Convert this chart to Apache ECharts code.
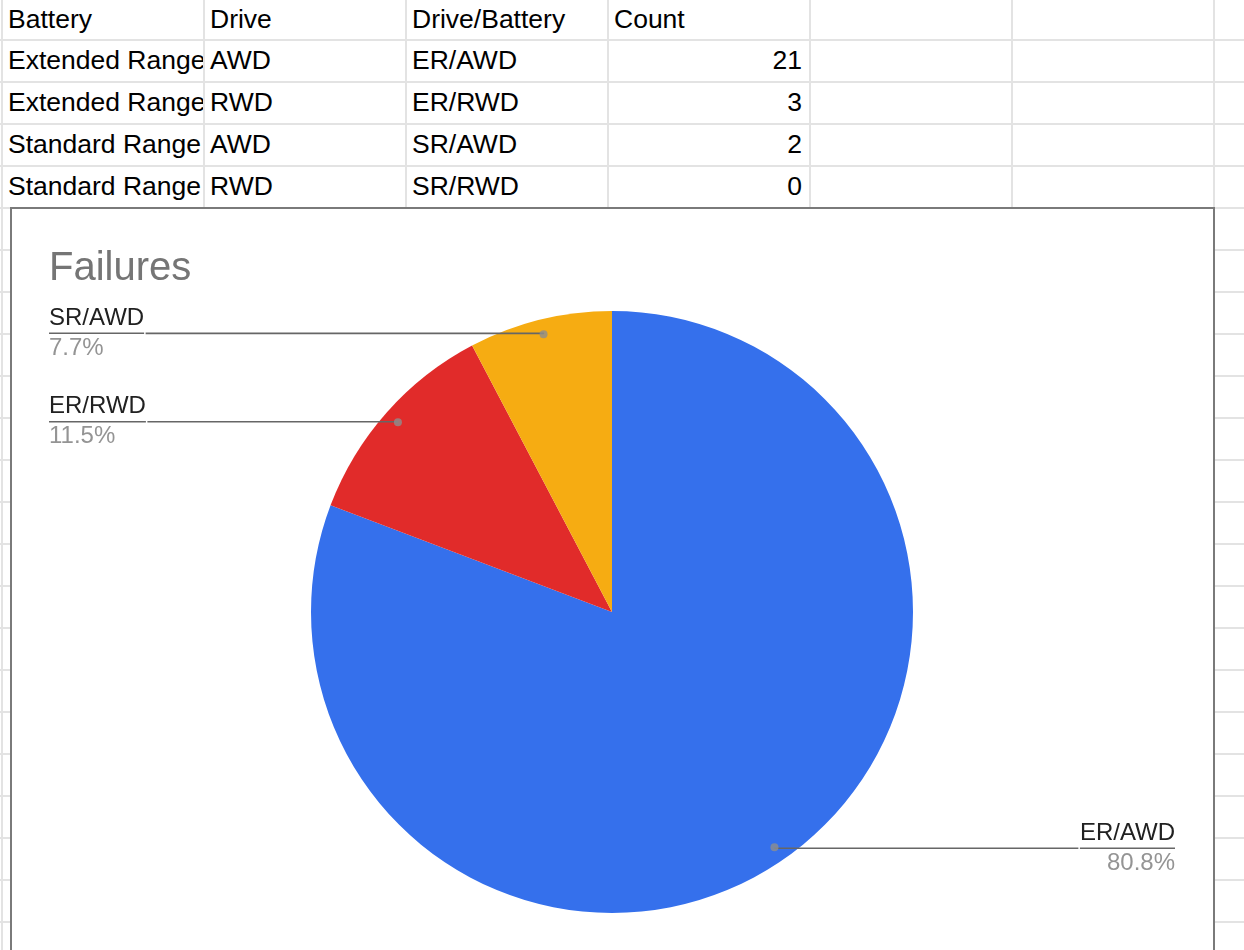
<!DOCTYPE html>
<html>
<head>
<meta charset="utf-8">
<script src="https://cdn.jsdelivr.net/npm/echarts@6/dist/echarts.min.js"></script>
<style>
  html, body { margin: 0; padding: 0; background: #fff; overflow: hidden; }
  body { width: 1244px; height: 950px; position: relative; font-family: "Liberation Sans", Arial, sans-serif; }
  .hl { position: absolute; left: 0; width: 1244px; height: 2px; background: #e3e3e3; }
  .vl { position: absolute; top: 0; width: 2px; height: 950px; background: #e3e3e3; }
  .cell { position: absolute; height: 42px; line-height: 40px; font-size: 26.5px; color: #000; white-space: nowrap; overflow: hidden; box-sizing: border-box; }
  #chart { position: absolute; left: 10px; top: 208px; width: 1204px; height: 742px; background: #fff; }
  #frame { position: absolute; left: 10px; top: 207px; width: 1205px; height: 800px; border: 2px solid #7a7a7a; box-sizing: border-box; pointer-events: none; }
</style>
</head>
<body>
<div id="sheet"></div>
<div id="chart"></div>
<div id="frame"></div>
<script>
// ---- data ----
const headers = ['Battery', 'Drive', 'Drive/Battery', 'Count'];
const battery = ['Extended Range', 'Extended Range', 'Standard Range', 'Standard Range'];
const drive = ['AWD', 'RWD', 'AWD', 'RWD'];
const driveBattery = ['ER/AWD', 'ER/RWD', 'SR/AWD', 'SR/RWD'];
const counts = [21, 3, 2, 0];
const chartTitle = 'Failures';

// ---- spreadsheet grid ----
const sheet = document.getElementById('sheet');
const colLines = [1, 203, 405, 607, 809, 1011, 1213];
const rowTop = 39, rowH = 42;
for (let y = rowTop; y < 950; y += rowH) {
  const d = document.createElement('div'); d.className = 'hl'; d.style.top = y + 'px'; sheet.appendChild(d);
}
colLines.forEach(x => {
  const d = document.createElement('div'); d.className = 'vl'; d.style.left = x + 'px'; sheet.appendChild(d);
});
function addCell(col, row, text, alignRight) {
  const d = document.createElement('div');
  d.className = 'cell';
  const x0 = colLines[col] + 2, x1 = colLines[col + 1];
  d.style.left = x0 + 'px';
  d.style.width = (x1 - x0) + 'px';
  d.style.top = (row === 0 ? 0 : rowTop + rowH * (row - 1) + 1) + 'px';
  if (row === 0) { d.style.height = '39px'; d.style.lineHeight = '39px'; }
  if (alignRight) { d.style.textAlign = 'right'; d.style.paddingRight = '7px'; }
  else { d.style.paddingLeft = '5px'; }
  d.textContent = text;
  sheet.appendChild(d);
}
headers.forEach((h, i) => addCell(i, 0, h, false));
for (let r = 0; r < counts.length; r++) {
  addCell(0, r + 1, battery[r], false);
  addCell(1, r + 1, drive[r], false);
  addCell(2, r + 1, driveBattery[r], false);
  addCell(3, r + 1, String(counts[r]), true);
}

// ---- chart ----
const FONT = '"Liberation Sans", Arial, sans-serif';
const pieData = driveBattery
  .map((n, i) => ({ name: n, value: counts[i] }))
  .filter(d => d.value > 0);
const colors = ['#3570ec', '#e12b2a', '#f6ac12'];
const total = pieData.reduce((s, d) => s + d.value, 0);
let cum = 0;
const dotData = pieData.map(d => { const m = cum + d.value / 2; cum += d.value; return m; });
const CENTER = [602, 404], R = 301, DOT_R = 286;

const chart = echarts.init(document.getElementById('chart'), null, { renderer: 'canvas' });
chart.setOption({
  animation: false,
  color: colors,
  title: {
    text: chartTitle, left: 34, top: 36,
    textStyle: { fontSize: 40, fontWeight: 'normal', color: '#757575', fontFamily: FONT }
  },
  polar: { center: CENTER, radius: R },
  angleAxis: { type: 'value', min: 0, max: total, startAngle: 90, clockwise: true, show: false },
  radiusAxis: { type: 'value', min: 0, max: R, show: false },
  series: [
    {
      type: 'pie', z: 1, center: CENTER, radius: R, startAngle: 90, clockwise: true,
      left: 0, top: 0, right: 0, bottom: 0,
      label: { show: false }, labelLine: { show: false },
      itemStyle: { borderWidth: 0 },
      emphasis: { disabled: true },
      data: pieData
    },
    {
      type: 'pie', z: 3, center: CENTER, radius: DOT_R, startAngle: 90, clockwise: true,
      left: 0, top: 0, right: 0, bottom: 0,
      percentPrecision: 1,
      itemStyle: { color: 'rgba(0,0,0,0)', borderWidth: 0 },
      emphasis: { disabled: true },
      label: {
        show: true, position: 'outside', alignTo: 'edge', edgeDistance: 39, distanceToLabelLine: 0,
        formatter: '{n|{b}}\n{hr|}\n{p|{d}%}',
        rich: {
          n: { fontSize: 24, color: '#212121', lineHeight: 30, fontFamily: FONT },
          hr: { width: '100%', height: 0, borderWidth: 1.5, borderColor: '#666666' },
          p: { fontSize: 24, color: '#949494', lineHeight: 30, fontFamily: FONT }
        }
      },
      labelLine: { show: true, length: 1, length2: 10, lineStyle: { color: '#666666', width: 1.6 } },
      data: pieData
    },
    {
      type: 'scatter', coordinateSystem: 'polar', z: 4,
      symbolSize: 8, itemStyle: { color: '#8e8e8e' },
      emphasis: { disabled: true }, silent: true,
      data: dotData.map(m => [DOT_R, m])
    }
  ]
});
</script>
</body>
</html>
